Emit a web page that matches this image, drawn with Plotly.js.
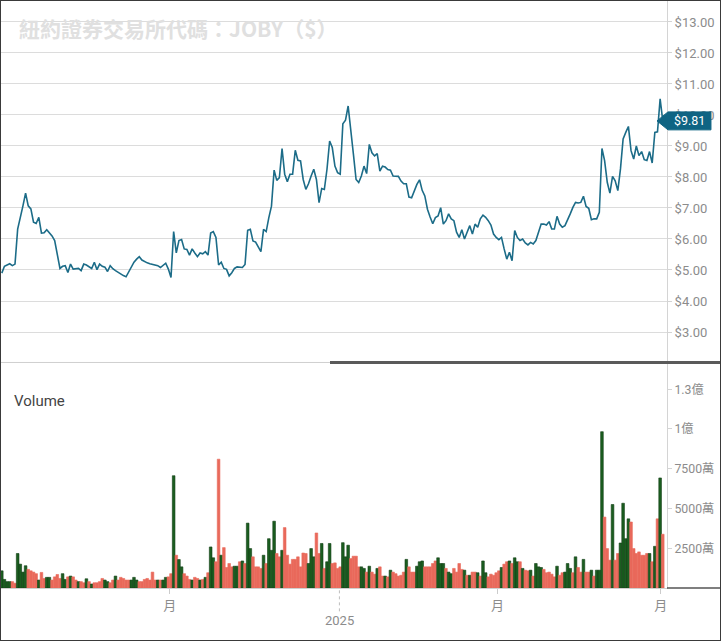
<!DOCTYPE html>
<html><head><meta charset="utf-8">
<script src="https://cdn.plot.ly/plotly-3.0.1.min.js"></script>
<style>
html,body{margin:0;padding:0;background:#fff;}
#frame{position:absolute;left:0;top:0;width:719px;height:639px;border:1px solid #3a3a3a;background:#fff;}
#chart{width:719px;height:639px;}
</style></head><body>
<div id="frame"><div id="chart"></div></div>
<script>
// Daily closing price (USD), one per trading day
const closePrice = [
 4.90,5.12,5.16,5.20,5.14,5.19,6.32,6.75,7.07,7.48,
 7.07,6.97,6.54,6.50,6.70,6.19,6.20,6.30,6.19,6.10,
 5.95,5.45,5.05,5.12,5.14,4.92,5.19,5.03,5.05,5.05,
 4.98,5.19,5.16,5.10,5.05,5.25,5.01,5.19,5.12,5.09,
 4.95,5.14,5.04,4.98,4.92,4.87,4.82,4.78,4.95,5.09,
 5.25,5.35,5.43,5.32,5.27,5.23,5.20,5.18,5.16,5.14,
 5.08,5.15,5.22,5.03,4.76,6.24,5.55,5.95,5.98,5.68,
 5.66,5.48,5.68,5.55,5.43,5.55,5.52,5.59,5.48,6.19,
 6.24,6.05,5.16,5.25,5.05,5.02,4.81,4.91,5.05,5.10,
 5.10,5.08,5.18,6.28,6.31,5.94,5.90,5.74,5.59,6.31,
 6.24,6.69,7.06,8.22,7.89,7.98,8.92,8.09,7.85,8.09,
 8.09,8.86,8.54,8.52,7.92,7.60,7.78,8.03,8.25,7.92,
 7.17,7.63,7.60,8.25,9.16,8.95,8.35,8.14,8.09,9.72,
 9.83,10.29,9.59,8.73,7.92,7.82,8.03,8.35,8.11,9.05,
 8.78,8.68,8.75,8.19,8.35,8.32,8.24,8.22,8.03,8.02,
 8.02,7.87,7.78,7.78,7.35,7.33,7.55,7.76,7.91,7.57,
 7.39,6.96,6.71,6.49,6.69,6.74,7.01,6.48,6.59,6.81,
 6.65,6.59,6.22,6.05,6.30,6.00,6.22,6.43,6.16,6.48,
 6.38,6.65,6.77,6.70,6.59,6.45,6.16,6.05,5.98,6.05,
 5.68,5.35,5.57,5.30,6.27,6.05,5.95,6.00,5.87,5.81,
 5.89,5.84,5.95,6.22,6.48,6.48,6.45,6.56,6.32,6.32,
 6.73,6.48,6.38,6.43,6.65,6.81,7.02,7.18,7.16,7.18,
 7.38,7.05,6.99,6.62,6.65,6.65,6.86,8.92,8.53,7.83,
 7.48,8.02,7.88,7.56,8.26,9.23,9.44,9.63,8.85,8.58,
 9.00,8.69,8.82,8.56,8.53,8.82,8.45,9.44,9.46,10.52,
 9.81
];
// Daily volume, millions of shares
const volumeMillions = [
 10.8,5.4,4,4,4,3,21.7,15,10,14,
 11.7,10.8,10,9,5,9.8,6,6.7,6.7,5,
 7,8.5,6,9,5.4,7,7.5,7,5,4,
 4,3.3,5.8,4,2.5,3.3,3.3,4,6,5,
 4,3.3,5,7.5,5,6.7,6,5,5,5,
 6.7,5,4,4,5.4,6,5,10,5,5,
 5,5,6.7,7,9,70.6,20.6,17.9,13.3,9,
 7.5,5.4,5,6.7,6,5,5.4,6.7,9.6,25.8,
 19,16.5,81,20.6,25.4,12.9,15.4,13.3,13.7,13.7,
 16.5,17,15.4,40.8,24.8,19.6,13.3,13.3,12.3,20.6,
 15.4,31,23.7,42,21.7,19.6,23.7,38,20.6,15,
 18,18,19.6,13.3,22,21.7,15.4,24.8,19.6,34.6,
 21.7,28,12.3,16.5,28,15.4,15.8,12.3,13.3,28.5,
 19.6,26.9,18.5,20,20,13.3,13.3,12.3,10,13.7,
 10,8.7,12.3,13.3,7.5,7.5,7,11.2,10,9,
 7.5,8,10,18,13.3,10,10,13.7,16.5,17,
 13.3,13.3,13.3,15.4,17,19,15.4,15.4,12.3,10,
 9,12.3,10,15.4,11.7,11.2,8,8,10,10,
 9.6,7.5,17,9.6,7,8.7,8,9.6,10.8,12.9,
 15,16.5,17,15.4,19,16.5,16.5,12.3,11.2,10.8,
 11.2,7.5,15.4,13.3,12.9,11.7,9.6,10,8.7,7,
 13.7,8,9.6,10,15.4,12.3,9.6,19.6,12.9,10,
 18,10,10,11.2,7.5,11.2,11.2,98.3,44.6,24.8,
 17.5,52.5,17.5,21.7,28.3,53.3,31,43.5,41.5,24.8,
 21.7,22.7,20.6,20.6,21.7,21.7,16.5,26.2,43.5,69.2,
 33.8
];
// Day direction: G = up day, R = down day
const dayDirection = (
 "GGGGRRGGGG" + "RRRRGRRGGR" + "RRRGGRGRRG" + "RRGRGRRRRG" + "GRRGRRRRRG" +
 "GGRRRRRRRG" + "RGGRRGRGGR" + "RRGRRGRGRG" + "GRRGRRRRGG" + "RGRGGRRRRG" +
 "RGGGRRGRRR" + "RRRRRRGGGR" + "RGRGGRRRRG" + "GGRRRRGGRG" + "RRGRRGRGRR" +
 "RRRGRRRGGG" + "RRRRRGGGRG" + "GRRRRGRGRR" + "GRGGRRRRRG" + "RRGRGGRGRR" +
 "GRGGGRRRRR" + "GRRGGGRGRR" + "GRRGRGGGRR" + "RGRRGGGGRR" + "RRRRRGRGRG" +
 "R"
).split('');

const monthTickPositions = [63.5, 187.5, 249.2];
const monthTickLabels = ['月', '月', '月'];
const yearLabel = '2025';
const yearPosition = 127.7;
const priceTickValues = [3,4,5,6,7,8,9,10,11,12,13];
const priceTickLabels = priceTickValues.map(v => '$' + v.toFixed(2));
const volumeTickValues = [25e6, 50e6, 75e6, 100e6, 125e6];
const volumeTickLabels = ['2500萬', '5000萬', '7500萬', '1億', '1.3億'];
const chartTitle = '紐約證券交易所代碼：JOBY（$）';

const dayIndex = closePrice.map((_, i) => i);
const upColor = '#1b5e20', upEdge = '#103e14', downColor = '#e9695b';
const lastPrice = closePrice[closePrice.length - 1];

const priceTrace = {
  x: dayIndex, y: closePrice, type: 'scatter', mode: 'lines',
  line: {color: '#1c6c88', width: 1.6}, xaxis: 'x', yaxis: 'y', hoverinfo: 'skip'
};
const volumeTrace = {
  x: dayIndex, y: volumeMillions.map(v => v * 1e6), type: 'bar',
  marker: {
    color: dayDirection.map(d => d === 'G' ? upColor : downColor),
    line: {color: dayDirection.map(d => d === 'G' ? upEdge : downColor), width: 0.6}
  },
  xaxis: 'x2', yaxis: 'y2', hoverinfo: 'skip'
};

const tickFont = {family: 'Roboto, "Noto Sans CJK TC", sans-serif', size: 13, color: '#8c8c8c'};
const volTickFont = {family: 'Roboto, "Noto Sans CJK TC", sans-serif', size: 12.3, color: '#8c8c8c'};
const xRange = [-0.3, 251.6];
const sepY = 0.3842;

const layout = {
  width: 719, height: 639,
  margin: {l: 0, r: 53, t: 0, b: 52, pad: 0},
  paper_bgcolor: '#ffffff', plot_bgcolor: '#ffffff',
  showlegend: false, bargap: 0,
  font: {family: 'Roboto, "Noto Sans CJK TC", sans-serif'},
  xaxis: {domain: [0, 1], range: xRange, anchor: 'y', showticklabels: false, ticks: '',
          showgrid: false, zeroline: false, showline: false, fixedrange: true},
  yaxis: {domain: [0.385, 1], range: [2.032, 13.677], side: 'right', anchor: 'x',
          tickvals: priceTickValues, ticktext: priceTickLabels, tickfont: tickFont,
          gridcolor: '#dcdcdc', gridwidth: 1, showline: true, linecolor: '#d4d4d4', linewidth: 1,
          ticks: 'outside', ticklen: 4, tickcolor: '#d4d4d4', zeroline: false, fixedrange: true},
  xaxis2: {domain: [0, 1], range: xRange, anchor: 'y2',
           tickvals: monthTickPositions, ticktext: monthTickLabels, tickfont: tickFont,
           ticks: 'outside', ticklen: 5, tickcolor: '#cccccc', showgrid: false,
           showline: true, linecolor: '#cfcfcf', zeroline: false, fixedrange: true},
  yaxis2: {domain: [0, 0.382], range: [0, 141e6], side: 'right', anchor: 'x2',
           tickvals: volumeTickValues, ticktext: volumeTickLabels, tickfont: volTickFont,
           showgrid: false, showline: true, linecolor: '#d4d4d4', ticks: 'outside', ticklen: 4,
           tickcolor: '#d4d4d4', zeroline: false, fixedrange: true},
  shapes: [
    {type: 'line', xref: 'paper', yref: 'paper', x0: 0, x1: 1.081, y0: sepY, y1: sepY,
     line: {color: '#cfcfcf', width: 1}},
    {type: 'line', xref: 'paper', yref: 'paper', x0: 0.494, x1: 1.081, y0: sepY, y1: sepY,
     line: {color: '#5a5a5a', width: 3}},
    {type: 'line', xref: 'paper', yref: 'paper', x0: 1.0, x1: 1.081, y0: 0, y1: 0,
     line: {color: '#555555', width: 1.5}},
    {type: 'line', xref: 'x2', yref: 'paper', x0: yearPosition, x1: yearPosition, y0: -0.004, y1: -0.043,
     line: {color: '#bdbdbd', width: 1, dash: 'dot'}},
    {type: 'path', xref: 'paper', yref: 'y', layer: 'above',
     path: 'M 0.985 ' + lastPrice + ' L 1.0015 ' + (lastPrice + 0.29) + ' L 1.066 ' + (lastPrice + 0.29) +
           ' L 1.066 ' + (lastPrice - 0.29) + ' L 1.0015 ' + (lastPrice - 0.29) + ' Z',
     fillcolor: '#0f6483', line: {color: '#0f6483', width: 1}}
  ],
  annotations: [
    {text: '<b>' + chartTitle + '</b>', xref: 'paper', yref: 'paper', x: 0.024, y: 0.954,
     xanchor: 'left', yanchor: 'middle', showarrow: false,
     font: {family: '"Noto Sans CJK TC", sans-serif', size: 21, color: '#e0e0e0'}},
    {text: 'Volume', xref: 'paper', yref: 'paper', x: 0.0165, y: 0.3186,
     xanchor: 'left', yanchor: 'middle', showarrow: false,
     font: {family: 'Roboto, sans-serif', size: 15, color: '#444444'}},
    {text: yearLabel, xref: 'x2', yref: 'paper', x: yearPosition, y: -0.0562,
     xanchor: 'center', yanchor: 'middle', showarrow: false, font: tickFont},
    {text: '$' + lastPrice.toFixed(2), xref: 'paper', yref: 'y', x: 1.034, y: lastPrice,
     xanchor: 'center', yanchor: 'middle', showarrow: false,
     font: {family: 'Roboto, sans-serif', size: 12.5, color: '#ffffff'}}
  ]
};

Plotly.newPlot('chart', [priceTrace, volumeTrace], layout, {staticPlot: true, displayModeBar: false});
</script>
</body></html>
